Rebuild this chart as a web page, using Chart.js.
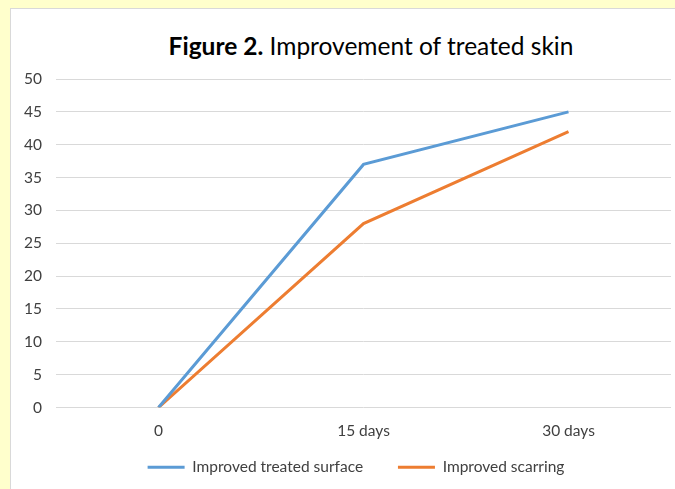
<!DOCTYPE html>
<html>
<head>
<meta charset="utf-8">
<script src="https://cdn.jsdelivr.net/npm/chart.js@4/dist/chart.umd.min.js"></script>
<style>
  html, body { margin: 0; padding: 0; }
  body { width: 675px; height: 489px; background: #ffffcc; position: relative; overflow: hidden; }
  #panel { position: absolute; left: 10px; top: 8px; width: 664px; height: 480px; background: #fff;
           border-left: 1px solid #d9d9d9; border-top: 1px solid #d9d9d9; }
  #title { position: absolute; left: 0; width: 720px; top: 24px; line-height: 26px; text-align: center;
           font-family: Lato, "Open Sans", sans-serif; font-size: 24.5px; color: #000; white-space: nowrap; }
  canvas { position: absolute; left: 0; top: 0; }
</style>
</head>
<body>
<div id="panel">
  <div id="title"><b>Figure 2.</b> Improvement of treated skin</div>
  <canvas id="skinChart" width="664" height="480"></canvas>
</div>
<script>
const labels = ['0', '15 days', '30 days'];
const treatedSurface = [0, 37, 45];
const scarring = [0, 28, 42];
const yTicks = [0, 5, 10, 15, 20, 25, 30, 35, 40, 45, 50];

const tickFont = { family: 'Lato', size: 15.5 };

// nudge the legend a little to the right, like the original
const legendShift = {
    id: 'legendShift',
    afterLayout(chart) {
        chart.legend.left += 15;
        chart.legend.right += 15;
    }
};

const ctx = document.getElementById('skinChart');
new Chart(ctx, {
    type: 'line',
    data: {
        labels: labels,
        datasets: [{
            label: 'Improved treated surface',
            data: treatedSurface,
            borderColor: '#5b9bd5',
            backgroundColor: '#5b9bd5',
            borderWidth: 3,
            pointRadius: 0,
            tension: 0
        }, {
            label: 'Improved scarring',
            data: scarring,
            borderColor: '#ed7d31',
            backgroundColor: '#ed7d31',
            borderWidth: 3,
            pointRadius: 0,
            tension: 0
        }]
    },
    plugins: [legendShift],
    options: {
        responsive: false,
        animation: false,
        layout: { padding: { top: 70, right: 4, bottom: 4, left: 0 } },
        plugins: {
            title: { display: false },
            tooltip: { enabled: false },
            legend: {
                position: 'bottom',
                labels: {
                    usePointStyle: true,
                    pointStyle: 'line',
                    pointStyleWidth: 37,
                    padding: 19,
                    color: '#404040',
                    font: tickFont,
                    generateLabels: function(chart) {
                        const items = Chart.defaults.plugins.legend.labels.generateLabels(chart);
                        // extra room between the two legend entries
                        items[0].text += '    ';
                        return items;
                    }
                }
            }
        },
        scales: {
            x: {
                offset: true,
                afterFit: function(axis) { axis.height = 33; },
                grid: { display: false, drawTicks: false },
                border: { display: false },
                ticks: { color: '#404040', padding: 14, maxRotation: 0, font: tickFont }
            },
            y: {
                min: 0,
                max: 50,
                afterBuildTicks: function(axis) {
                    axis.ticks = yTicks.map(v => ({ value: v }));
                },
                afterFit: function(axis) { axis.width = 45; },
                grid: { color: '#d9d9d9', drawTicks: false },
                border: { display: false },
                ticks: { color: '#404040', padding: 14, font: tickFont }
            }
        }
    }
});
</script>
</body>
</html>
